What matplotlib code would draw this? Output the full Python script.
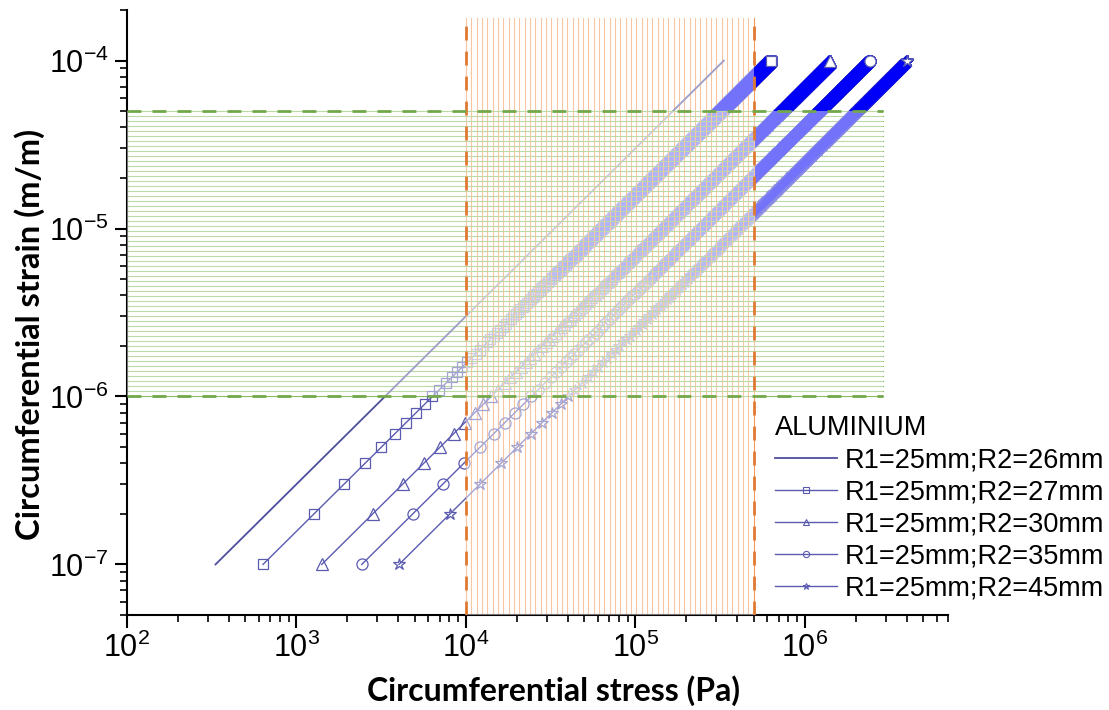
import numpy as np
import matplotlib
matplotlib.use("Agg")
import matplotlib.pyplot as plt
from matplotlib.ticker import LogLocator, FuncFormatter, NullFormatter

plt.rcParams['font.family'] = ['Liberation Sans', 'DejaVu Sans']
plt.rcParams['mathtext.fontset'] = 'custom'
plt.rcParams['mathtext.rm'] = 'Liberation Sans'
plt.rcParams['mathtext.it'] = 'Liberation Sans:italic'
plt.rcParams['mathtext.bf'] = 'Liberation Sans:bold'

# data
labels = ["R1=25mm;R2=26mm", "R1=25mm;R2=27mm", "R1=25mm;R2=30mm",
          "R1=25mm;R2=35mm", "R1=25mm;R2=45mm"]
markers = [None, 's', '^', 'o', '*']
marker_sizes = [0, 7.5, 8.5, 8.0, 9.0]
# stress per unit strain (Pa) for each series
moduli = [3.33e9, 6.35e9, 1.41e10, 2.43e10, 4.03e10]
# strain levels: 1e-7 .. 1e-4 in steps of 1e-7
strain = np.arange(1, 1001) * 1e-7

# limit bands
stress_band = (1e4, 5e5)
strain_band = (1e-6, 5e-5)
stress_band_top = 1.8e-4
strain_band_right = 2.9e6

line_col = '#5a5ab0'
blue = '#0000ff'
veil = 0.45

fig = plt.figure(figsize=(11.09, 7.10), dpi=100)
ax = fig.add_axes([0.1145, 0.1338, 0.7403, 0.8521])

dense = strain >= 5e-6
handles = []
for lab, mk, ms, E in zip(labels, markers, marker_sizes, moduli):
    stress = strain * E
    if mk is None:
        h, = ax.plot(stress, strain, color='#4e4e9c', lw=1.3, zorder=3, label=lab)
    else:
        ax.plot(stress, strain, color=line_col, lw=1.0, marker=mk, ms=ms,
                mfc='none', mec=line_col, mew=0.9, zorder=2)
        # where markers pile up they merge into a solid blue band
        ax.plot(stress[dense], strain[dense], ls='none', marker=mk, ms=ms,
                mfc=blue, mec=blue, mew=1.0, alpha=0.15, zorder=2.2)
        ax.plot(stress[-1:], strain[-1:], ls='none', marker=mk, ms=ms,
                mfc='white', mec=line_col, mew=0.9, zorder=2.5)
        h, = ax.plot([], [], color=line_col, lw=1.0, marker=mk, ms=4.5,
                     mfc='none', mec=line_col, mew=0.8, label=lab)
    handles.append(h)

ylo, yhi = 5e-8, 2e-4
xlo, xhi = 1e2, 7e6

# hatch lines: under the data (stronger colour, seen through the veil)
# except in the overlap of both bands, where they sit on top
xs = np.logspace(np.log10(stress_band[0]), np.log10(stress_band[1]), 55)
ys = np.logspace(np.log10(strain_band[0]), np.log10(strain_band[1]), 58)
for xv in xs:
    ax.plot([xv, xv], [ylo, strain_band[0]], color='#f29756', lw=0.8, zorder=1.5)
    ax.plot([xv, xv], [strain_band[1], stress_band_top], color='#f29756',
            lw=0.8, zorder=1.5)
    ax.plot([xv, xv], [strain_band[0], strain_band[1]], color='#f8c6a2',
            lw=0.8, zorder=6)
for yv in ys:
    ax.plot([xlo, stress_band[0]], [yv, yv], color='#85bc5d', lw=0.8, zorder=1.5)
    ax.plot([stress_band[1], strain_band_right], [yv, yv], color='#85bc5d',
            lw=0.8, zorder=1.5)
    ax.plot([stress_band[0], stress_band[1]], [yv, yv], color='#bcdaa6',
            lw=0.8, zorder=6)

# white veils over the data inside each band
ax.fill_between(stress_band, ylo, stress_band_top, color='white', alpha=veil,
                lw=0, zorder=5)
ax.fill_between([xlo, strain_band_right], strain_band[0], strain_band[1],
                color='white', alpha=veil, lw=0, zorder=5)

for xv in stress_band:
    ax.plot([xv, xv], [ylo, stress_band_top], color='#e07a33', lw=2.0,
            dashes=(5, 4), zorder=8)
for yv in strain_band:
    ax.plot([xlo, strain_band_right], [yv, yv], color='#72a84a', lw=2.0,
            dashes=(5, 4), zorder=8)

ax.set_xscale('log')
ax.set_yscale('log')
ax.set_xlim(xlo, xhi)
ax.set_ylim(ylo, yhi)

fmt = FuncFormatter(lambda v, p: r'$\mathregular{10^{%d}}$' % round(np.log10(v)))
ax.xaxis.set_major_locator(LogLocator(base=10, numticks=20))
ax.yaxis.set_major_locator(LogLocator(base=10, numticks=20))
ax.xaxis.set_minor_locator(LogLocator(base=10, subs=np.arange(2, 10), numticks=50))
ax.yaxis.set_minor_locator(LogLocator(base=10, subs=np.arange(2, 10), numticks=50))
ax.xaxis.set_major_formatter(fmt)
ax.yaxis.set_major_formatter(fmt)
ax.xaxis.set_minor_formatter(NullFormatter())
ax.yaxis.set_minor_formatter(NullFormatter())

for s in ['top', 'right']:
    ax.spines[s].set_visible(False)
for s in ['left', 'bottom']:
    ax.spines[s].set_linewidth(1.5)
ax.tick_params(which='major', direction='out', length=9, width=1.5,
               labelsize=22, pad=4)
ax.tick_params(which='minor', direction='out', length=5, width=1.2)

ax.set_xlabel('Circumferential stress (Pa)', family='Lato', fontweight='bold',
              fontsize=23)
ax.set_ylabel('Circumferential strain (m/m)', family='Lato', fontweight='bold',
              fontsize=23.5)
ax.xaxis.set_label_coords(0.519, -0.100)
ax.yaxis.set_label_coords(-0.100, 0.464)

leg = ax.legend(handles=handles, title='ALUMINIUM', loc='upper left',
                bbox_to_anchor=(0.789, 0.33), frameon=False, fontsize=19.5,
                title_fontsize=19.5, alignment='left', handlelength=2.3,
                handletextpad=0.3, labelspacing=0.22, borderpad=0,
                borderaxespad=0)
leg.set_zorder(10)

fig.savefig('out.png', dpi=100)
